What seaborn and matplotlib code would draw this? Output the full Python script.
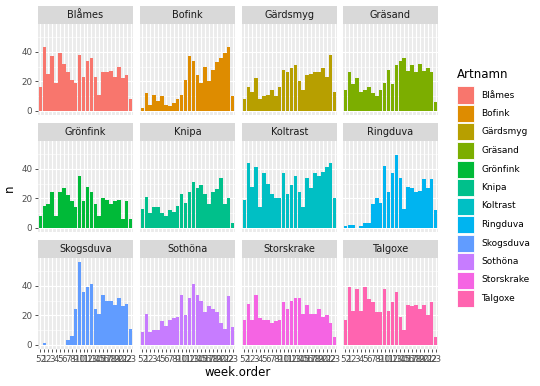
import numpy as np
import pandas as pd
import matplotlib
matplotlib.use("Agg")
import matplotlib.pyplot as plt
import seaborn as sns
from matplotlib.patches import Rectangle

# week order: 52, then 1..23
weeks = ["52"] + [str(i) for i in range(1, 24)]

species = ["Blåmes", "Bofink", "Gärdsmyg", "Gräsand", "Grönfink", "Knipa",
           "Koltrast", "Ringduva", "Skogsduva", "Sothöna", "Storskrake", "Talgoxe"]

colors = ["#F8766D", "#DE8C00", "#B79F00", "#7CAE00", "#00BA38", "#00C08B",
          "#00BFC4", "#00B4F0", "#619CFF", "#C77CFF", "#F564E3", "#FF64B0"]

blames = [16, 43, 25, 37, 19, 39, 32, 26, 21, 19, 38, 23, 34, 36, 23, 11, 26, 26, 27, 23, 30, 22, 24, 8]
bofink = [2, 12, 4, 11, 7, 10, 4, 3, 5, 8, 11, 21, 37, 34, 24, 19, 30, 20, 28, 33, 36, 39, 43, 10]
gardsmyg = [8, 16, 13, 22, 8, 10, 11, 14, 10, 16, 28, 26, 29, 31, 20, 14, 24, 25, 26, 26, 29, 23, 38, 13]
grasand = [14, 26, 18, 22, 13, 14, 16, 12, 10, 14, 19, 28, 18, 31, 34, 36, 27, 31, 26, 32, 27, 29, 26, 6]
gronfink = [8, 15, 16, 24, 8, 24, 27, 22, 18, 14, 35, 18, 28, 24, 16, 8, 20, 19, 16, 18, 19, 6, 18, 6]
knipa = [13, 21, 10, 14, 14, 10, 8, 12, 11, 15, 23, 17, 24, 31, 27, 29, 23, 16, 24, 26, 34, 16, 20, 3]
koltrast = [19, 44, 28, 41, 14, 37, 30, 23, 20, 20, 37, 23, 29, 35, 24, 14, 34, 27, 37, 35, 38, 41, 44, 20]
ringduva = [1, 2, 2, 0, 1, 3, 3, 16, 20, 17, 42, 24, 37, 49, 34, 13, 28, 27, 24, 25, 33, 27, 33, 12]
skogsduva = [0, 1, 0, 0, 0, 0, 0, 3, 6, 24, 56, 36, 39, 41, 24, 21, 34, 30, 30, 27, 32, 26, 28, 11]
sothona = [9, 21, 9, 10, 10, 16, 13, 17, 18, 19, 34, 20, 32, 41, 34, 30, 22, 26, 24, 22, 15, 11, 33, 12]
storskrake = [17, 28, 17, 34, 18, 17, 17, 15, 16, 17, 29, 24, 30, 32, 32, 21, 27, 21, 21, 24, 19, 20, 15, 5]
talgoxe = [17, 39, 23, 38, 23, 39, 31, 29, 22, 22, 38, 23, 29, 36, 19, 10, 27, 26, 27, 24, 27, 20, 29, 5]

counts = [blames, bofink, gardsmyg, grasand, gronfink, knipa,
          koltrast, ringduva, skogsduva, sothona, storskrake, talgoxe]

rows = []
for sp, vals in zip(species, counts):
    for w, v in zip(weeks, vals):
        rows.append({"Artnamn": sp, "week.order": w, "n": v})
df = pd.DataFrame(rows)

W, H = 540, 386
fig = plt.figure(figsize=(W / 100, H / 100), dpi=100)


def box(x0, top, w, h):
    return [x0 / W, 1 - (top + h) / H, w / W, h / H]


cols_x = [38, 140, 242, 343]
rows_y = [24, 141, 258]
pw, ph, sh = 95, 91, 18

ymax = df["n"].max()
ylo, yhi = -0.05 * ymax, ymax * 1.05

for i, sp in enumerate(species):
    r, c = divmod(i, 4)
    ax = fig.add_axes(box(cols_x[c], rows_y[r], pw, ph))
    ax.set_facecolor("#EBEBEB")
    ax.set_axisbelow(True)
    # grid
    for yv in [10, 30, 50]:
        ax.axhline(yv, color="white", lw=0.4, zorder=0)
    for yv in [0, 20, 40]:
        ax.axhline(yv, color="white", lw=0.8, zorder=0)
    for xi in range(len(weeks)):
        ax.axvline(xi, color="white", lw=0.8, zorder=0)

    sub = df[df["Artnamn"] == sp]
    sns.barplot(data=sub, x="week.order", y="n", order=weeks, color=colors[i],
                saturation=1, width=0.9, ax=ax, errorbar=None, zorder=2)

    ax.set_xlim(-0.6, len(weeks) - 0.4)
    ax.set_ylim(ylo, yhi)
    for s in ax.spines.values():
        s.set_visible(False)
    ax.set_xlabel("")
    ax.set_ylabel("")
    ax.set_yticks([0, 20, 40])
    ax.tick_params(axis="both", length=2.5, width=0.6, color="#333333",
                   labelsize=6.3, labelcolor="#4D4D4D", pad=1.5)
    if c != 0:
        ax.tick_params(axis="y", left=False, labelleft=False)
    if r != 2:
        ax.tick_params(axis="x", bottom=False, labelbottom=False)

    # facet strip
    sax = fig.add_axes(box(cols_x[c], rows_y[r] - sh, pw, sh))
    sax.set_facecolor("#D9D9D9")
    sax.set_xticks([])
    sax.set_yticks([])
    for s in sax.spines.values():
        s.set_visible(False)
    sax.text(0.5, 0.5, sp, ha="center", va="center", fontsize=7, color="#1A1A1A",
             transform=sax.transAxes)

# axis titles
fig.text(238 / W, 1 - 372 / H, "week.order", ha="center", va="center", fontsize=8.5, color="black")
fig.text(9 / W, 1 - 188 / H, "n", ha="center", va="center", fontsize=8.5, rotation=90, color="black")

# legend
fig.text(457 / W, 1 - 75 / H, "Artnamn", ha="left", va="center", fontsize=8.5, color="black")
for i, sp in enumerate(species):
    cy = 95 + i * 18.5
    fig.patches.append(Rectangle(((457) / W, 1 - (cy + 8.5) / H), 17 / W, 17 / H,
                                 facecolor=colors[i], edgecolor="white", lw=0.6,
                                 transform=fig.transFigure, figure=fig))
    fig.text(481 / W, 1 - cy / H, sp, ha="left", va="center", fontsize=6.5, color="black")

fig.savefig("out.png", dpi=100)
